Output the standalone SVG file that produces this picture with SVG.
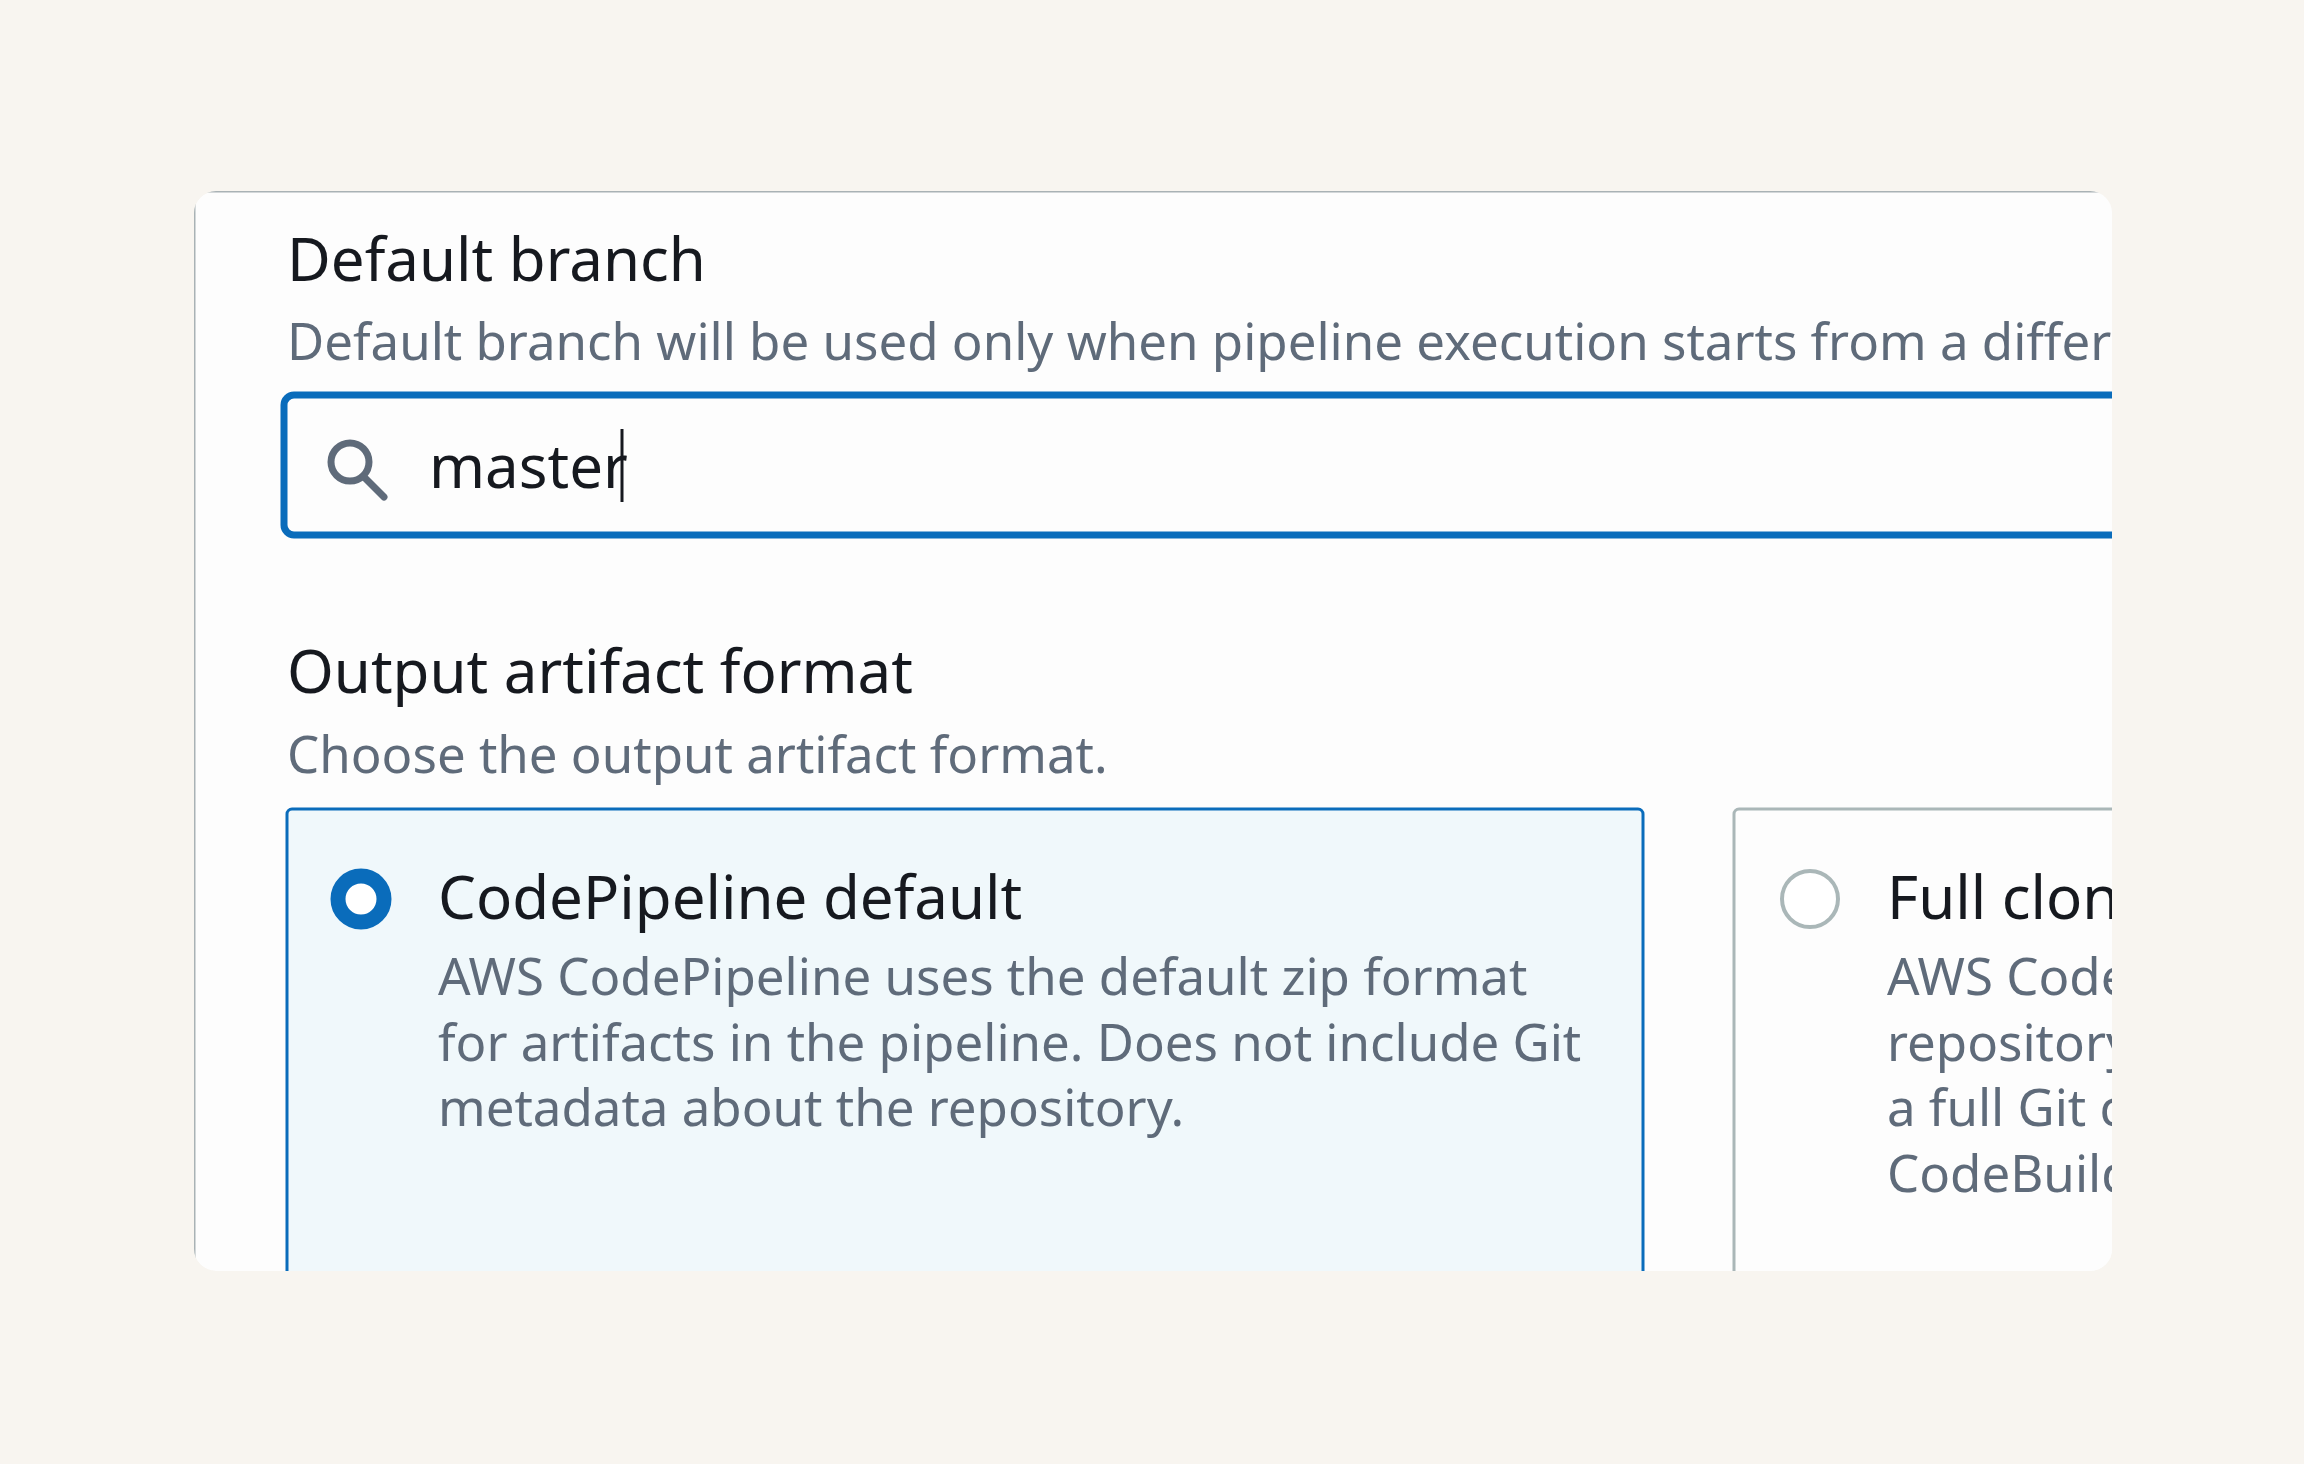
<svg xmlns="http://www.w3.org/2000/svg" width="2304" height="1464" viewBox="0 0 2304 1464">
<style>
.h{font-family:"Noto Sans","Open Sans",sans-serif;font-size:60px;fill:#16191f}
.s{font-family:"Noto Sans","Open Sans",sans-serif;font-size:51px;fill:#5f6b7a}
</style>
<defs><clipPath id="c"><rect x="194" y="191" width="1918" height="1080" rx="22"/></clipPath></defs>
<rect width="2304" height="1464" fill="#f8f5f0"/>
<g clip-path="url(#c)">
<rect x="194" y="191" width="1940" height="1080" rx="22" fill="#fdfdfd"/>
<path d="M194 1271V191H2112" fill="none" stroke="#a9b2b5" stroke-width="3"/>
<g id="branch">
<text class="h" x="287" y="281">Default branch</text>
<text class="s" x="287" y="360">Default branch will be used only when pipeline execution starts from a different branch</text>
<rect x="284" y="395" width="1900" height="140" rx="10" fill="#fdfdfd" stroke="#0a6cbb" stroke-width="7"/>
<circle cx="350" cy="462" r="19" fill="none" stroke="#5f6b7a" stroke-width="7"/>
<line x1="364" y1="477" x2="384" y2="497" stroke="#5f6b7a" stroke-width="7" stroke-linecap="round"/>
<text class="h" x="429" y="488">master</text>
<line x1="622" y1="429" x2="622" y2="502" stroke="#16191f" stroke-width="3"/>
</g>
<g id="format">
<text class="h" x="287" y="693">Output artifact format</text>
<text class="s" x="287" y="773">Choose the output artifact format.</text>
</g>
<g id="opt1">
<rect x="287" y="809" width="1356" height="480" rx="5" fill="#f0f8fb" stroke="#0a6cbb" stroke-width="3"/>
<circle cx="361" cy="899" r="23" fill="#fff" stroke="#0a6cbb" stroke-width="15"/>
<text class="h" x="438" y="919">CodePipeline default</text>
<text class="s" x="438" y="995">AWS CodePipeline uses the default zip format</text>
<text class="s" x="438" y="1061">for artifacts in the pipeline. Does not include Git</text>
<text class="s" x="438" y="1126">metadata about the repository.</text>
</g>
<g id="opt2">
<rect x="1734" y="809" width="500" height="480" rx="5" fill="#fdfdfd" stroke="#aab7b8" stroke-width="3"/>
<circle cx="1810" cy="899" r="28" fill="#fff" stroke="#aab7b8" stroke-width="4"/>
<text class="h" x="1887" y="919">Full clone</text>
<text class="s" x="1887" y="995">AWS CodePipeline</text>
<text class="s" x="1887" y="1061">repository</text>
<text class="s" x="1887" y="1126">a full Git clone</text>
<text class="s" x="1887" y="1192">CodeBuild</text>
</g>
</g>
</svg>
